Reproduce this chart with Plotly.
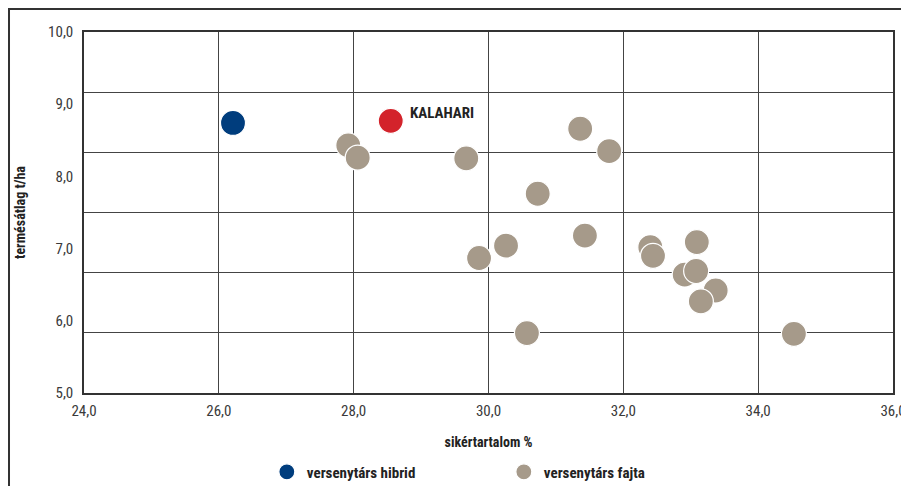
import plotly.graph_objects as go

# Data
hibrid_x = [26.21]
hibrid_y = [8.74]

kalahari_x = [28.55]
kalahari_y = [8.77]
kalahari_label = "KALAHARI"

fajta_x = [27.92, 28.06, 29.67, 30.73, 31.36, 31.79, 29.86, 30.26, 31.43, 30.57,
           32.40, 32.44, 33.09, 32.91, 33.08, 33.37, 33.15, 34.53]
fajta_y = [8.43, 8.26, 8.25, 7.76, 8.66, 8.35, 6.87, 7.04, 7.18, 5.83,
           7.02, 6.90, 7.09, 6.64, 6.69, 6.42, 6.27, 5.82]

x_ticks = [24, 26, 28, 30, 32, 34, 36]
y_ticks = [5, 6, 7, 8, 9, 10]

x_title = "sikértartalom %"
y_title = "termésátlag t/ha"
name_hibrid = "versenytárs hibrid"
name_fajta = "versenytárs fajta"

BLUE = "#003d7d"
RED = "#d3232b"
GREY = "#a69a8a"
FONT = "Liberation Sans Narrow, Roboto Condensed, Roboto, sans-serif"

fig = go.Figure()

# dummy trace on secondary y for the horizontal gridlines
fig.add_trace(go.Scatter(x=[None], y=[None], yaxis="y2", showlegend=False, hoverinfo="skip"))

fig.add_trace(go.Scatter(
    x=fajta_x, y=fajta_y, mode="markers", name="<b>" + name_fajta + "</b>",
    marker=dict(size=25, color=GREY, line=dict(color="white", width=1.2)),
))
fig.add_trace(go.Scatter(
    x=hibrid_x, y=hibrid_y, mode="markers", name="<b>" + name_hibrid + "</b>",
    marker=dict(size=25, color=BLUE, line=dict(color="white", width=1.2)),
))
fig.add_trace(go.Scatter(
    x=kalahari_x, y=kalahari_y, mode="markers", name=kalahari_label, showlegend=False,
    marker=dict(size=25, color=RED, line=dict(color="white", width=1.2)),
))

fig.add_annotation(
    x=kalahari_x[0], y=kalahari_y[0], text="<b>" + kalahari_label + "</b>",
    showarrow=False, xanchor="left", yanchor="middle", xshift=17, yshift=8,
    font=dict(family=FONT, size=15, color="#222222"),
)

fig.update_layout(
    width=901, height=510,
    margin=dict(l=76, r=16, t=24, b=125),
    paper_bgcolor="white", plot_bgcolor="white",
    font=dict(family=FONT, size=15, color="#333333"),
    separators=",.",
    xaxis=dict(
        range=[24, 36], tickvals=x_ticks, tickformat=".1f", automargin=False,
        showgrid=True, gridcolor="#444444", gridwidth=1,
        zeroline=False, showline=True, linecolor="#333333", linewidth=2, mirror=True,
        ticks="", ticklabelstandoff=3,
        title=dict(text="<b>" + x_title + "</b>", font=dict(size=14, color="#222222"), standoff=18),
        tickfont=dict(size=15, color="#3a3a3a"),
    ),
    yaxis=dict(
        range=[5, 10], tickvals=y_ticks, tickformat=".1f", automargin=False,
        showgrid=False, zeroline=False, showline=True, linecolor="#333333", linewidth=1.5,
        mirror=True, ticks="", ticklabelstandoff=6,
        title=dict(text="<b>" + y_title + "</b>", font=dict(size=14, color="#222222"), standoff=19),
        tickfont=dict(size=15, color="#3a3a3a"),
    ),
    yaxis2=dict(
        range=[0, 6], dtick=1, overlaying="y", side="right", automargin=False,
        showgrid=True, gridcolor="#444444", gridwidth=1,
        showticklabels=False, zeroline=False, showline=False, ticks="",
    ),
    legend=dict(
        orientation="h", x=0.226, xanchor="left", y=-0.219, yanchor="middle",
        font=dict(family=FONT, size=15, color="#222222"),
        traceorder="reversed", itemwidth=30, entrywidth=192,
    ),
    showlegend=True,
    shapes=[
        dict(type="line", xref="paper", yref="paper", x0=-0.1, x1=1.03, y0=1.0637, y1=1.0637,
             line=dict(color="#333333", width=2)),
        dict(type="line", xref="paper", yref="paper", x0=-0.0927, x1=-0.0927, y0=-0.4, y1=1.0637,
             line=dict(color="#333333", width=2)),
    ],
)

fig.write_html("out.html")
